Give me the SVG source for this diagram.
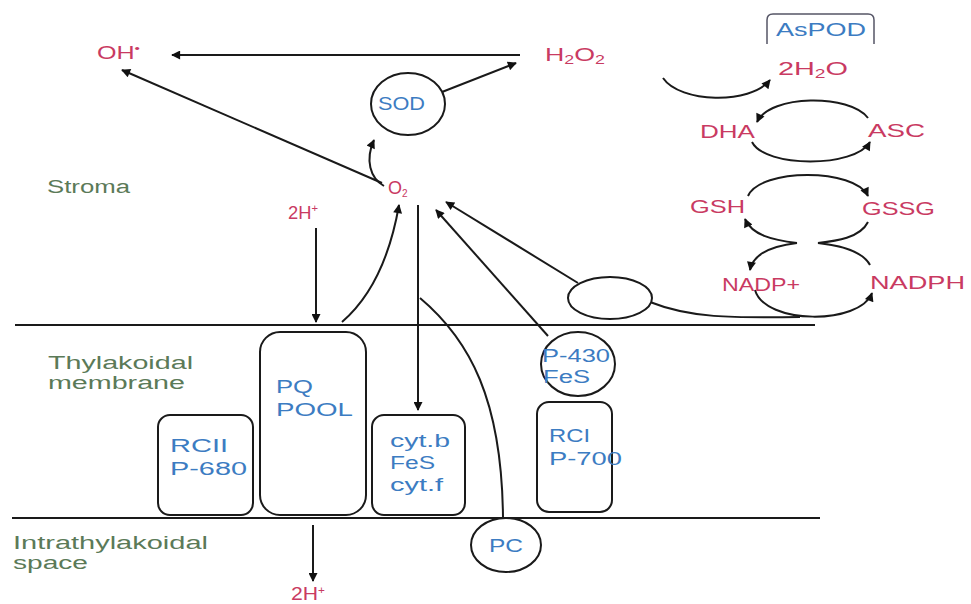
<svg xmlns="http://www.w3.org/2000/svg" width="971" height="604" viewBox="0 0 971 604">
<defs>
<marker id="ah" viewBox="0 0 10 10" refX="9" refY="5" markerWidth="11" markerHeight="9" markerUnits="userSpaceOnUse" orient="auto">
<path d="M0,0 L10,5 L0,10 z" fill="#111"/>
</marker>
<style>
.ln{fill:none;stroke:#1a1a1a;stroke-width:2}
.arr{fill:none;stroke:#1a1a1a;stroke-width:2;marker-end:url(#ah)}
.box{fill:#fff;stroke:#1a1a1a;stroke-width:2}
.t{font-family:"Liberation Sans",Arial,sans-serif;font-size:18px}
.pk{fill:#c93a62}
.bl{fill:#3c7cc2}
.gr{fill:#5b7a58}
</style>
</defs>
<rect width="971" height="604" fill="#fff"/>

<g id="membrane">
<line class="ln" x1="15" y1="325" x2="815" y2="325"/>
<line class="ln" x1="12" y1="518" x2="820" y2="518"/>
</g>

<g id="connectors">
<line class="arr" x1="520" y1="55" x2="172" y2="55"/>
<line class="arr" x1="442" y1="92" x2="516" y2="63"/>
<line class="arr" x1="382" y1="183" x2="122" y2="70"/>
<path class="arr" d="M384,186 C370,178 365,160 374,140"/>
<line class="arr" x1="316" y1="228" x2="316" y2="322"/>
<path class="arr" d="M342,322 Q385,285 399,205"/>
<line class="arr" x1="418" y1="205" x2="418" y2="410"/>
<path class="ln" d="M420,298 C470,340 502,400 503,518"/>
<line class="arr" x1="548" y1="336" x2="436" y2="210"/>
<line class="arr" x1="578" y1="283" x2="446" y2="202"/>
<line class="arr" x1="313" y1="525" x2="313" y2="581"/>
<path class="arr" d="M663,78 C680,103 750,105 770,80"/>
<path class="arr" d="M868,118 C850,94 770,94 757,122"/>
<path class="arr" d="M752,142 C765,168 855,168 870,142"/>
<path class="arr" d="M748,196 C760,168 855,168 868,196"/>
<path class="arr" d="M797,243 C772,240 752,235 745,219"/>
<path class="arr" d="M797,243 C772,246 753,254 750,270"/>
<path class="ln" d="M868,222 C860,238 836,241 818,243 C836,245 862,250 870,265"/>
<path class="arr" d="M755,290 C765,325 860,325 872,293"/>
<path class="ln" d="M650,302 C690,318 730,318 800,317"/>
</g>

<g id="labels-stroma">
<text class="t pk" x="97" y="59" textLength="43" lengthAdjust="spacingAndGlyphs">OH<tspan font-size="11" dy="-7">•</tspan></text>
<text class="t pk" x="545" y="61" textLength="60" lengthAdjust="spacingAndGlyphs">H<tspan font-size="12" dy="3">2</tspan><tspan dy="-3">O</tspan><tspan font-size="12" dy="3">2</tspan></text>
<text class="t pk" x="388" y="194" font-size="17">O<tspan font-size="10" dy="3">2</tspan></text>
<text class="t gr" x="47" y="193" textLength="83" lengthAdjust="spacingAndGlyphs">Stroma</text>
<text class="t pk" x="288" y="219" textLength="30" lengthAdjust="spacingAndGlyphs">2H<tspan font-size="11" dy="-7">+</tspan></text>
</g>

<g id="sod">
<ellipse class="box" cx="408" cy="104" rx="37" ry="31"/>
<text class="t bl" x="378" y="110" textLength="47" lengthAdjust="spacingAndGlyphs">SOD</text>
</g>

<g id="aspod">
<path d="M767,44 L767,20 Q767,14 773,14 L868,14 Q874,14 874,20 L874,44" fill="none" stroke="#556" stroke-width="1.5"/>
<text class="t bl" x="776" y="36" textLength="90" lengthAdjust="spacingAndGlyphs">AsPOD</text>
</g>

<g id="cycle-labels">
<text class="t pk" x="778" y="75" textLength="70" lengthAdjust="spacingAndGlyphs">2H<tspan font-size="12" dy="3">2</tspan><tspan dy="-3">O</tspan></text>
<text class="t pk" x="700" y="138" textLength="55" lengthAdjust="spacingAndGlyphs">DHA</text>
<text class="t pk" x="868" y="137" textLength="57" lengthAdjust="spacingAndGlyphs">ASC</text>
<text class="t pk" x="690" y="213" textLength="55" lengthAdjust="spacingAndGlyphs">GSH</text>
<text class="t pk" x="862" y="215" textLength="73" lengthAdjust="spacingAndGlyphs">GSSG</text>
<text class="t pk" x="722" y="291" textLength="78" lengthAdjust="spacingAndGlyphs">NADP+</text>
<text class="t pk" x="870" y="289" textLength="95" lengthAdjust="spacingAndGlyphs">NADPH</text>
</g>

<g id="fd-ellipse">
<ellipse class="box" cx="610" cy="298" rx="42" ry="21"/>
</g>

<g id="labels-membrane">
<text class="t gr" x="48" y="369" textLength="145" lengthAdjust="spacingAndGlyphs">Thylakoidal</text>
<text class="t gr" x="48" y="389" textLength="137" lengthAdjust="spacingAndGlyphs">membrane</text>
<text class="t gr" x="13" y="549" textLength="195" lengthAdjust="spacingAndGlyphs">Intrathylakoidal</text>
<text class="t gr" x="13" y="569" textLength="75" lengthAdjust="spacingAndGlyphs">space</text>
<text class="t pk" x="291" y="600" font-size="16" textLength="34" lengthAdjust="spacingAndGlyphs">2H<tspan font-size="10" dy="-6">+</tspan></text>
</g>

<g id="rcii">
<rect class="box" x="158" y="415" width="95" height="100" rx="12"/>
<text class="t bl" x="170" y="452" textLength="58" lengthAdjust="spacingAndGlyphs">RCII</text>
<text class="t bl" x="170" y="475" textLength="77" lengthAdjust="spacingAndGlyphs">P-680</text>
</g>

<g id="pq-pool">
<rect class="box" x="260" y="332" width="106" height="183" rx="20"/>
<text class="t bl" x="276" y="393" textLength="37" lengthAdjust="spacingAndGlyphs">PQ</text>
<text class="t bl" x="276" y="416" textLength="77" lengthAdjust="spacingAndGlyphs">POOL</text>
</g>

<g id="cyt">
<rect class="box" x="372" y="415" width="93" height="100" rx="12"/>
<text class="t bl" x="390" y="447" textLength="60" lengthAdjust="spacingAndGlyphs">cyt.b</text>
<text class="t bl" x="390" y="469" textLength="45" lengthAdjust="spacingAndGlyphs">FeS</text>
<text class="t bl" x="390" y="491" textLength="53" lengthAdjust="spacingAndGlyphs">cyt.f</text>
</g>

<g id="p430">
<ellipse class="box" cx="578" cy="364" rx="37" ry="32"/>
<text class="t bl" x="542" y="362" textLength="68" lengthAdjust="spacingAndGlyphs">P-430</text>
<text class="t bl" x="543" y="383" textLength="47" lengthAdjust="spacingAndGlyphs">FeS</text>
</g>

<g id="rci">
<rect class="box" x="537" y="402" width="75" height="110" rx="12"/>
<text class="t bl" x="549" y="442" textLength="41" lengthAdjust="spacingAndGlyphs">RCI</text>
<text class="t bl" x="549" y="465" textLength="73" lengthAdjust="spacingAndGlyphs">P-700</text>
</g>

<g id="pc">
<ellipse class="box" cx="506" cy="545" rx="35" ry="27"/>
<text class="t bl" x="506" y="552" text-anchor="middle" textLength="34" lengthAdjust="spacingAndGlyphs">PC</text>
</g>
</svg>
